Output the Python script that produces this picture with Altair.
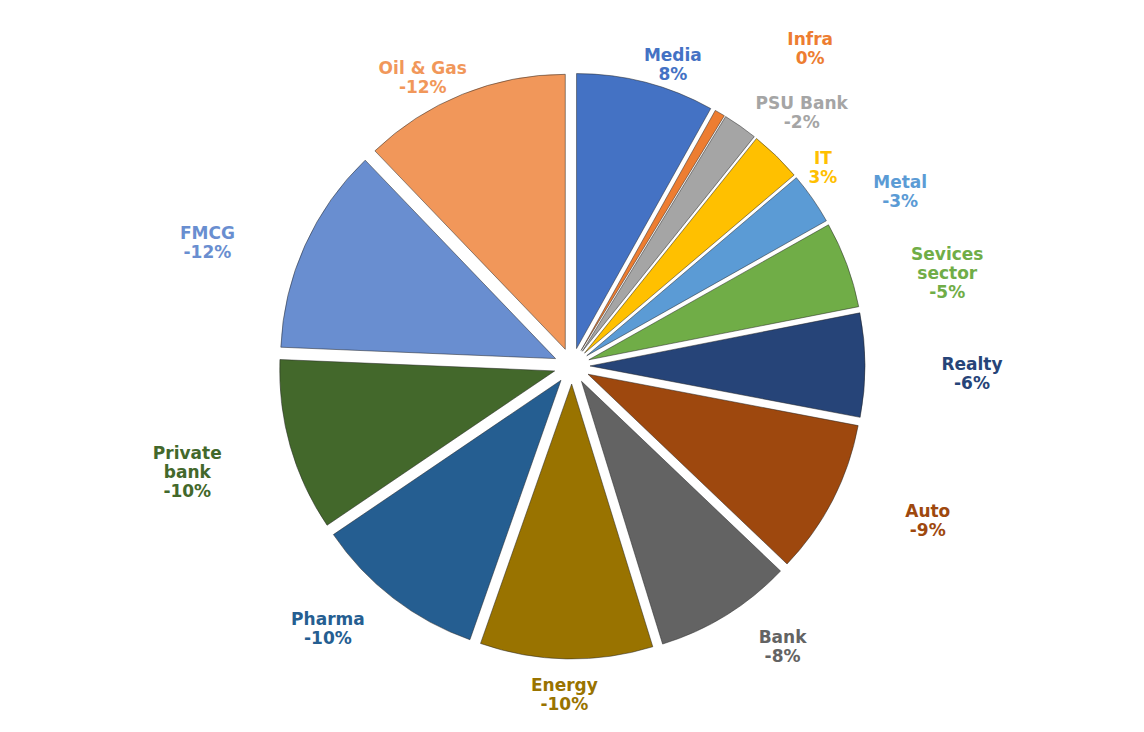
import altair as alt
import pandas as pd

sectors = ["Media", "Infra", "PSU Bank", "IT", "Metal", "Sevices sector", "Realty", "Auto",
           "Bank", "Energy", "Pharma", "Private bank", "FMCG", "Oil & Gas"]
returns = [8, 0, -2, 3, -3, -5, -6, -9, -8, -10, -10, -10, -12, -12]
# slice size: magnitude of return (Infra shown as a sliver)
sizes = [8, 0.6, 2, 3, 3, 5, 6, 9, 8, 10, 10, 10, 12, 12]
colors = ["#4472C4", "#ED7D31", "#A5A5A5", "#FFC000", "#5B9BD5", "#70AD47", "#264478", "#9E480E",
          "#636363", "#997300", "#255E91", "#43682B", "#698ED0", "#F1975A"]

W, H = 1128, 716
df = pd.DataFrame({"sector": sectors, "ret": returns, "size": sizes, "i": range(len(sectors))})
df["label"] = [
    (s.replace(" ", "\n") if s in ("Sevices sector", "Private bank") else s) + "\n" + f"{r}%"
    for s, r in zip(sectors, returns)
]
total = sum(sizes)

base = alt.Chart(df).transform_window(
    cum="sum(size)", sort=[alt.SortField("i")]
).transform_calculate(
    mid=f"(datum.cum - datum.size/2) / {total} * 2 * PI",
    k="datum.i == 1 ? 1.18 : (datum.i == 3 ? 0.9 : 1)",
    cx=f"{W/2} + 18*sin(datum.mid)",
    cy=f"{H/2} - 18*cos(datum.mid)",
    lx=f"{W/2} + 400*datum.k*sin(datum.mid)",
    ly=f"{H/2} - 320*datum.k*cos(datum.mid)",
)

color = alt.Color("sector:N", scale=alt.Scale(domain=sectors, range=colors), legend=None)

pie = base.mark_arc(outerRadius=275, stroke="#222", strokeWidth=0.5).encode(
    theta=alt.Theta("size:Q", stack=True),
    order=alt.Order("i:Q"),
    x=alt.X("cx:Q", scale=None, axis=None),
    y=alt.Y("cy:Q", scale=None, axis=None),
    color=color,
)

labels = base.mark_text(
    font="DejaVu Sans", fontSize=17, fontWeight="bold", lineBreak="\n", align="center",
    baseline="middle"
).encode(
    x=alt.X("lx:Q", scale=None, axis=None),
    y=alt.Y("ly:Q", scale=None, axis=None),
    text="label:N",
    color=color,
)

chart = (pie + labels).properties(width=W, height=H, padding=0).configure_view(stroke=None)
chart.save("out.html", embed_options={"renderer": "svg", "actions": False})
